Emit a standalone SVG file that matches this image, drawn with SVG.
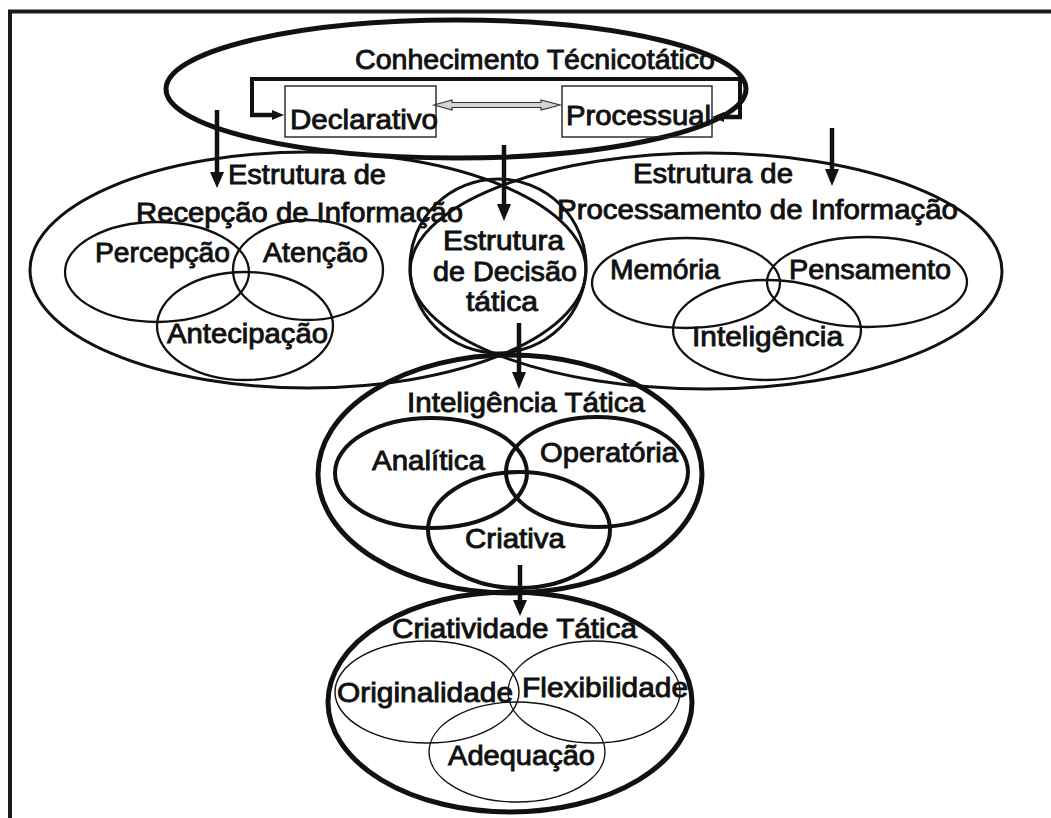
<svg xmlns="http://www.w3.org/2000/svg" width="1051" height="818" viewBox="0 0 1051 818">
<style>
.t{font-family:"Liberation Sans",Arial,sans-serif;font-size:28px;fill:#111;stroke:#111;stroke-width:0.9px}
.e{fill:none;stroke:#111}
.w5{stroke-width:5}
.w4{stroke-width:4}
.w3{stroke-width:3}
.w2{stroke-width:2.3}
.w1{stroke-width:1.4}
.sh{stroke:#111;stroke-width:4.5;fill:none}
.hd{fill:#111;stroke:none}
.box{fill:none;stroke:#222;stroke-width:1.4}
</style>
<rect width="1051" height="818" fill="#fff"/>
<g id="frame" fill="none" stroke="#1a1a1a" stroke-width="4">
<path d="M10,818 V11.5 H1051"/>
</g>
<g id="conhecimento">
<ellipse class="e w5" cx="456" cy="89" rx="290" ry="69"/>
<text class="t" x="355" y="69" textLength="360" lengthAdjust="spacingAndGlyphs">Conhecimento Técnicotático</text>
</g>
<g id="declarativo">
<rect class="box" x="285" y="86" width="151" height="51"/>
<text class="t" x="290" y="129" textLength="148" lengthAdjust="spacingAndGlyphs">Declarativo</text>
</g>
<g id="processual">
<rect class="box" x="562" y="86" width="150" height="51"/>
<text class="t" x="566" y="125" textLength="145" lengthAdjust="spacingAndGlyphs">Processual</text>
</g>
<g id="recepcao">
<ellipse class="e w3" cx="308" cy="270" rx="278" ry="118"/>
<text class="t" x="228" y="184" textLength="158" lengthAdjust="spacingAndGlyphs">Estrutura de</text>
<text class="t" x="136" y="222" textLength="327" lengthAdjust="spacingAndGlyphs">Recepção de Informação</text>
</g>
<g id="percepcao">
<ellipse class="e w2" cx="157" cy="272" rx="92" ry="50"/>
<text class="t" x="95" y="262" textLength="135" lengthAdjust="spacingAndGlyphs">Percepção</text>
</g>
<g id="atencao">
<ellipse class="e w2" cx="308" cy="270" rx="75" ry="50"/>
<text class="t" x="263" y="262" textLength="105" lengthAdjust="spacingAndGlyphs">Atenção</text>
</g>
<g id="antecipacao">
<ellipse class="e w2" cx="245" cy="326" rx="88" ry="54"/>
<text class="t" x="167" y="343" textLength="161" lengthAdjust="spacingAndGlyphs">Antecipação</text>
</g>
<g id="decisao">
<ellipse class="e w3" cx="498" cy="266" rx="88" ry="87"/>
<text class="t" x="443" y="250" textLength="121" lengthAdjust="spacingAndGlyphs">Estrutura</text>
<text class="t" x="433" y="281" textLength="144" lengthAdjust="spacingAndGlyphs">de Decisão</text>
<text class="t" x="466" y="311" textLength="72" lengthAdjust="spacingAndGlyphs">tática</text>
</g>
<g id="processamento">
<ellipse class="e w3" cx="706" cy="271" rx="296" ry="118"/>
<text class="t" x="633" y="183" textLength="160" lengthAdjust="spacingAndGlyphs">Estrutura de</text>
<text class="t" x="557" y="219" textLength="401" lengthAdjust="spacingAndGlyphs">Processamento de Informação</text>
</g>
<g id="memoria">
<ellipse class="e w2" cx="686" cy="283" rx="94" ry="45"/>
<text class="t" x="610" y="279" textLength="110" lengthAdjust="spacingAndGlyphs">Memória</text>
</g>
<g id="pensamento">
<ellipse class="e w2" cx="867" cy="282" rx="100" ry="45"/>
<text class="t" x="789" y="279" textLength="162" lengthAdjust="spacingAndGlyphs">Pensamento</text>
</g>
<g id="inteligencia">
<ellipse class="e w2" cx="767" cy="330" rx="94" ry="50"/>
<text class="t" x="692" y="346" textLength="151" lengthAdjust="spacingAndGlyphs">Inteligência</text>
</g>
<g id="inteligencia-tatica">
<ellipse class="e w5" cx="510" cy="474" rx="192" ry="119"/>
<text class="t" x="407" y="412" textLength="238" lengthAdjust="spacingAndGlyphs">Inteligência Tática</text>
</g>
<g id="analitica">
<ellipse class="e w4" cx="431" cy="473" rx="96" ry="55"/>
<text class="t" x="372" y="470" textLength="113" lengthAdjust="spacingAndGlyphs">Analítica</text>
</g>
<g id="operatoria">
<ellipse class="e w4" cx="597" cy="472" rx="91" ry="55"/>
<text class="t" x="540" y="462" textLength="138" lengthAdjust="spacingAndGlyphs">Operatória</text>
</g>
<g id="criativa">
<ellipse class="e w4" cx="519" cy="530" rx="91" ry="58"/>
<text class="t" x="465" y="548" textLength="100" lengthAdjust="spacingAndGlyphs">Criativa</text>
</g>
<g id="criatividade-tatica">
<ellipse class="e w5" cx="510" cy="702" rx="182" ry="110"/>
<text class="t" x="392" y="638" textLength="245" lengthAdjust="spacingAndGlyphs">Criatividade Tática</text>
</g>
<g id="originalidade">
<ellipse class="e w1" cx="427" cy="692" rx="92" ry="51"/>
<text class="t" x="337" y="702" textLength="176" lengthAdjust="spacingAndGlyphs">Originalidade</text>
</g>
<g id="flexibilidade">
<ellipse class="e w1" cx="594" cy="692" rx="86" ry="51"/>
<text class="t" x="522" y="697" textLength="166" lengthAdjust="spacingAndGlyphs">Flexibilidade</text>
</g>
<g id="adequacao">
<ellipse class="e w1" cx="517" cy="752" rx="88" ry="50"/>
<text class="t" x="448" y="765" textLength="147" lengthAdjust="spacingAndGlyphs">Adequação</text>
</g>
<g id="connectors">
<path d="M252,115 V79 H740 V117" fill="none" stroke="#111" stroke-width="4"/>
<line class="sh" x1="250" y1="115" x2="273" y2="115" stroke-width="4"/>
<polygon class="hd" points="284,115 272,110 272,120"/>
<line class="sh" x1="742" y1="117" x2="722" y2="117" stroke-width="4"/>
<polygon class="hd" points="712,117 724,112 724,122"/>
<polygon points="434,105 452,100 452,102.5 541,102.5 541,100 560,105 541,110 541,107.5 452,107.5 452,110" fill="#d4d4d4" stroke="#333" stroke-width="1.2"/>
<line class="sh" x1="217" y1="110" x2="217" y2="174"/>
<polygon class="hd" points="217,188 210,172 224,172"/>
<line class="sh" x1="504" y1="145" x2="504" y2="206"/>
<polygon class="hd" points="504,221 497,204 511,204"/>
<line class="sh" x1="832" y1="128" x2="832" y2="171"/>
<polygon class="hd" points="832,186 825,169 839,169"/>
<line class="sh" x1="519" y1="323" x2="519" y2="374"/>
<polygon class="hd" points="519,389 512,372 526,372"/>
<line class="sh" x1="520" y1="565" x2="520" y2="602"/>
<polygon class="hd" points="520,616 513,600 527,600"/>
</g>
</svg>
